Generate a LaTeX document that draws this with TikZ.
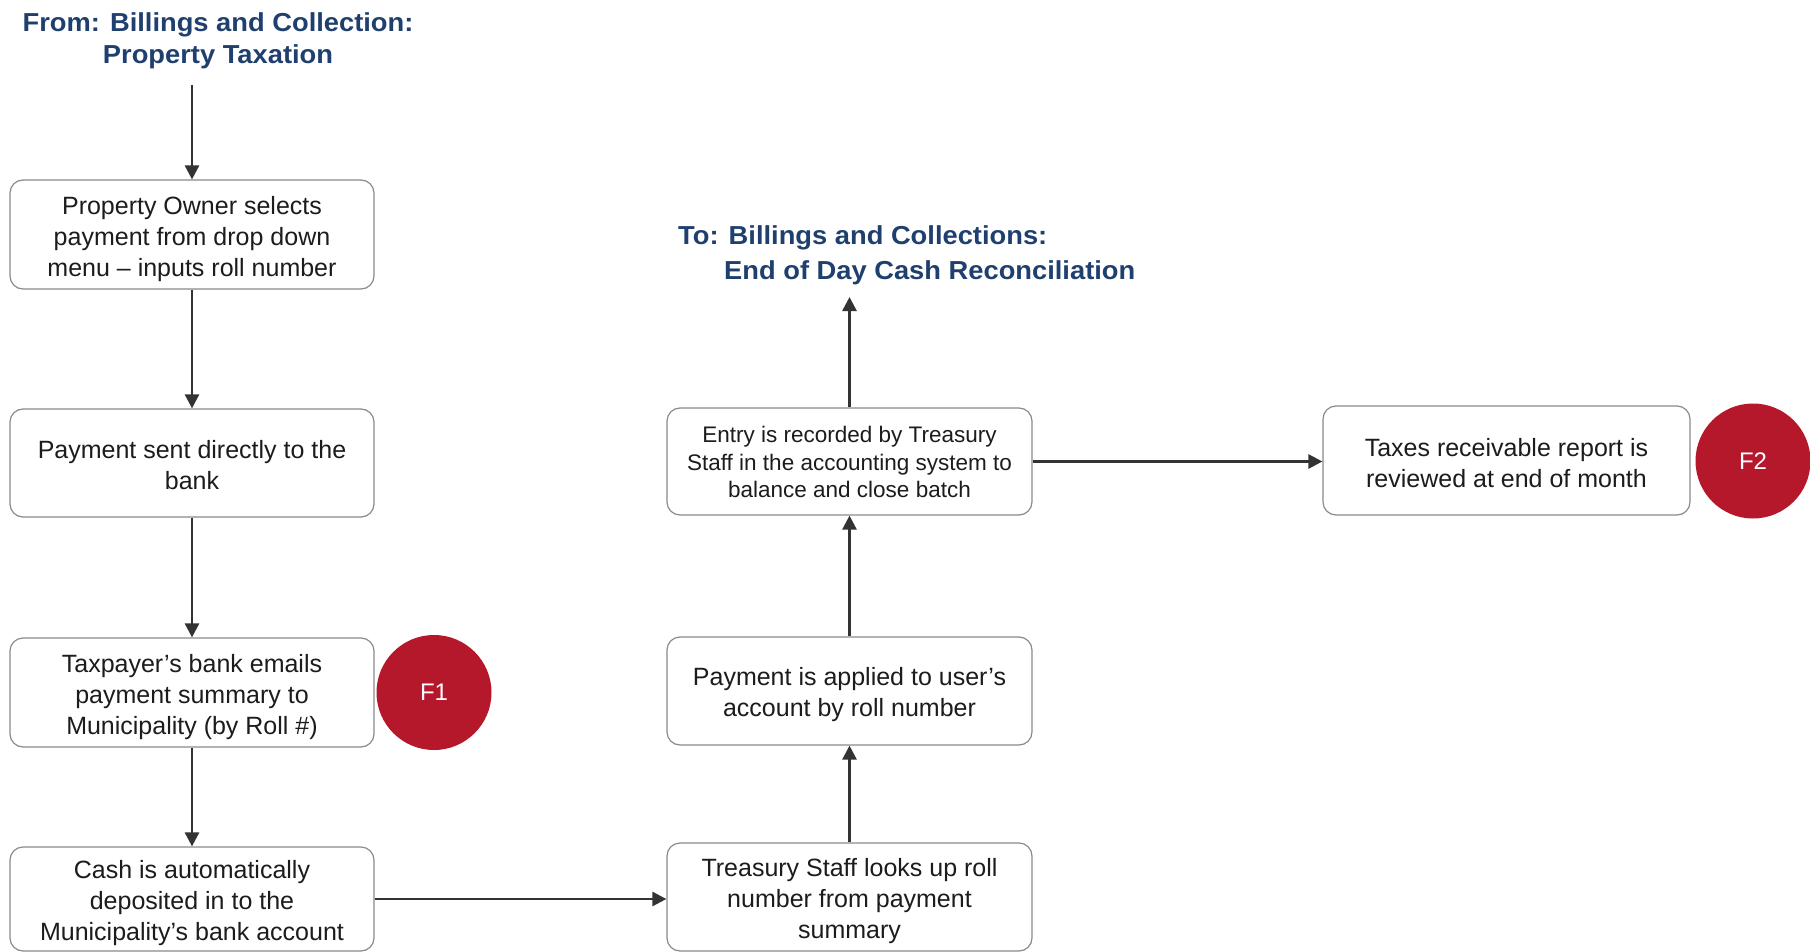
\documentclass[tikz,border=0pt]{standalone}
\usepackage{fontspec}
\setmainfont{Liberation Sans}
\newfontfamily\titlefont[FakeStretch=1.05]{Liberation Sans Bold}
\usetikzlibrary{arrows.meta}
\definecolor{titleblue}{HTML}{1F3F6E}
\definecolor{flagred}{HTML}{B5172B}
\definecolor{inkgray}{HTML}{1C1C1C}
\definecolor{edgegray}{HTML}{8A8A8A}
\definecolor{arrowgray}{HTML}{333333}
% invisible struts that set the room above the first line of a box
\newcommand\lift[1]{\rule{0pt}{#1}}

\begin{document}
\begin{tikzpicture}[x=1pt,y=-1pt,
  stepbox/.style={draw=edgegray, line width=1.2pt, rounded corners=13pt, fill=white,
    align=center, text=inkgray, inner sep=0pt, minimum width=365pt, minimum height=108pt,
    font=\fontsize{25}{31}\selectfont},
  smallbox/.style={stepbox, font=\fontsize{22.5}{27.5}\selectfont},
  flag/.style={circle, fill=flagred, text=white, minimum size=115pt, inner sep=0pt,
    font=\fontsize{24}{28}\selectfont},
  heading/.style={text=titleblue, inner sep=0pt},
  flow/.style={draw=arrowgray, line width=2.6pt, -{Triangle[length=14pt,width=14pt]}}
]
\useasboundingbox (0,0) rectangle (1810,952);

% headings
\node[heading, anchor=north, align=center,
      font=\titlefont\fontsize{26}{32}\selectfont] (from) at (218,12)
  {From: Billings and Collection:\\Property Taxation};
\node[heading, anchor=north west, align=left,
      font=\titlefont\fontsize{26}{35}\selectfont] (to) at (678,225)
  {To: Billings and Collections:\\\hspace*{46pt}End of Day Cash Reconciliation};

% left column
\node[stepbox, minimum width=364pt, minimum height=109pt] (b1) at (192,234.5)
  {\lift{27pt}Property Owner selects\\payment from drop down\\menu -- inputs roll number};
\node[stepbox, minimum width=364pt] (b2) at (192,463)
  {\lift{22.5pt}Payment sent directly to the\\bank};
\node[stepbox, minimum width=364pt, minimum height=109pt] (b3) at (192,692.5)
  {\lift{27pt}Taxpayer’s bank emails\\payment summary to\\Municipality (by Roll \#)};
\node[stepbox, minimum width=364pt, minimum height=104pt] (b4) at (192,899)
  {\lift{27pt}Cash is automatically\\deposited in to the\\Municipality’s bank account};

% middle column
\node[smallbox, minimum height=107pt] (e) at (849.5,461.5)
  {\lift{18pt}Entry is recorded by Treasury\\Staff in the accounting system to\\balance and close batch};
\node[stepbox] (p) at (849.5,691)
  {\lift{26pt}Payment is applied to user’s\\account by roll number};
\node[stepbox] (t) at (849.5,897)
  {\lift{26.5pt}Treasury Staff looks up roll\\number from payment\\summary};

% right column
\node[stepbox, minimum width=367pt, minimum height=109pt] (tx) at (1506.5,460.5)
  {\lift{22.5pt}Taxes receivable report is\\reviewed at end of month};

% control flags
\node[flag] (f1) at (434,692.5) {F1};
\node[flag] (f2) at (1753,461) {F2};

% free ends of the in/out connectors
\coordinate (inflow) at (192,85);
\coordinate (outflow) at (849.5,297);

% connectors
\draw[flow] (inflow) -- (b1.north);
\draw[flow] (b1) -- (b2);
\draw[flow] (b2) -- (b3);
\draw[flow] (b3) -- (b4);
\draw[flow] (b4.east) -- (t.west |- b4.east);
\draw[flow] (t) -- (p);
\draw[flow] (p) -- (e);
\draw[flow] (e.north) -- (outflow);
\draw[flow] (e.east) -- (tx.west |- e.east);
\end{tikzpicture}
\end{document}
